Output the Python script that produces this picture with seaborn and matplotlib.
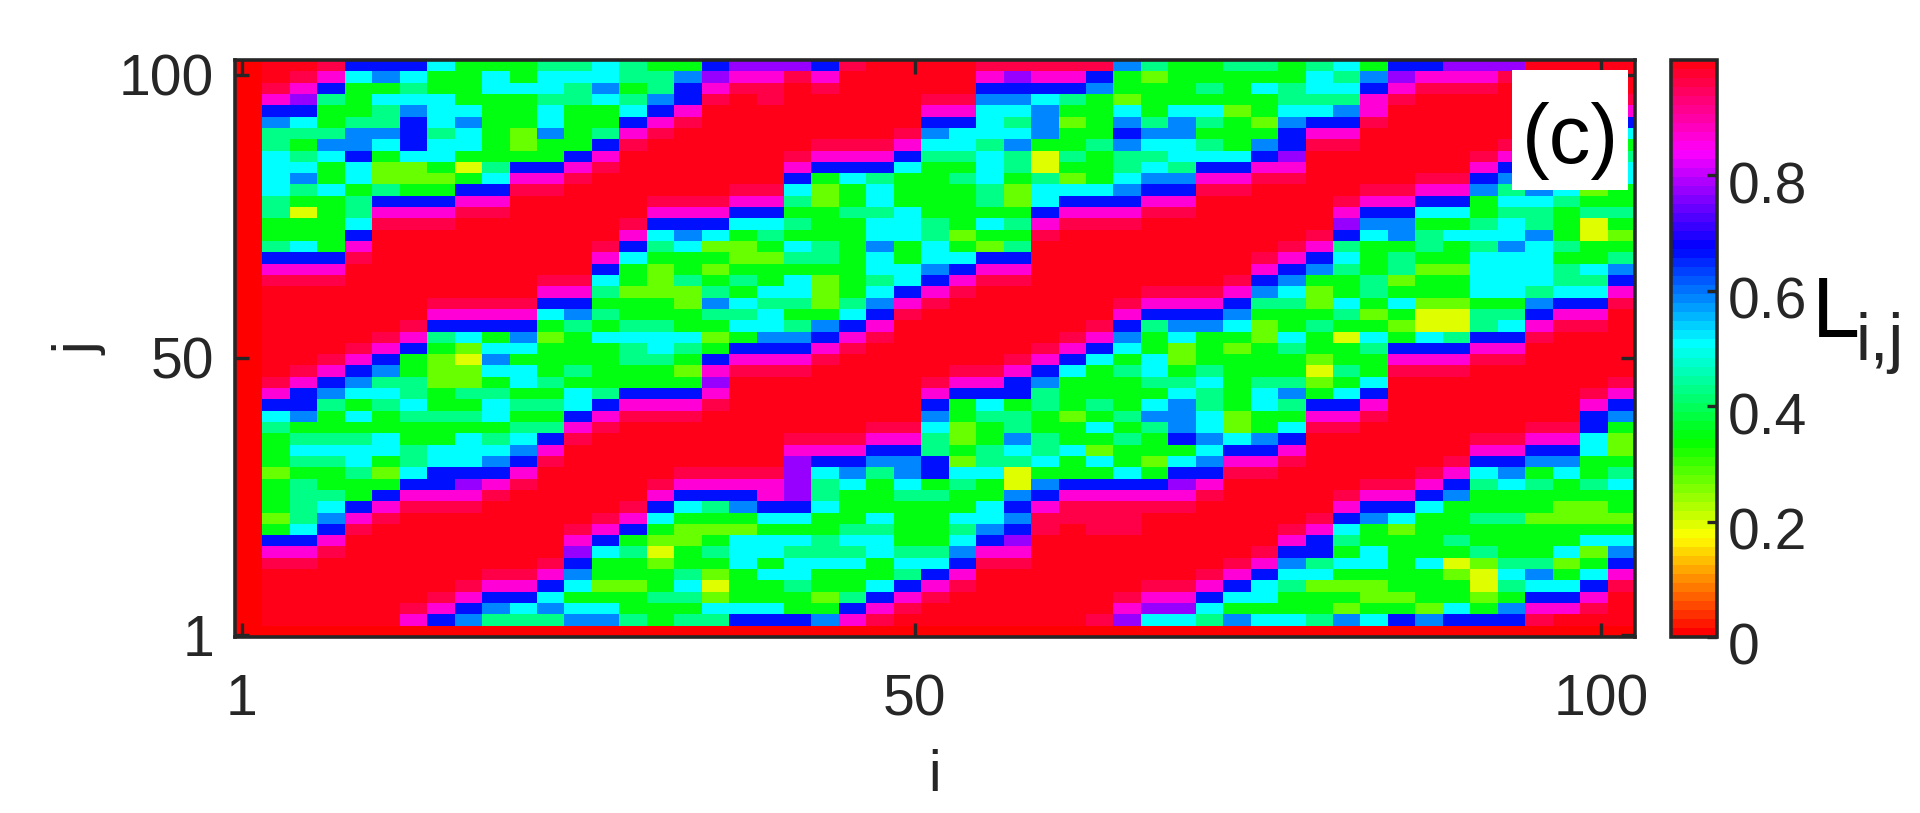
import matplotlib
matplotlib.use("Agg")
import matplotlib.pyplot as plt
import numpy as np
import seaborn as sns
from matplotlib.patches import Rectangle
from matplotlib.transforms import ScaledTranslation

# level codes
levels = {"z": 0.0, "r": 0.985, "p": 0.955, "m": 0.86, "v": 0.77, "b": 0.66, "a": 0.58,
          "c": 0.5, "t": 0.43, "g": 0.35, "l": 0.27, "y": 0.19}

# one string per grid column (2 sites wide), top row first, rows are 2 sites high
columns = [
    "zzzzzzzzzz zzzzzzzzzz zzzzzzzzzz zzzzzzzzzz zzzzzzzzzz",
    "rrpmbattcc ccttggtbmp rrrrrrrrpm bctggglggg lgbmprrrrr",
    "rpmvbctgtc atgyggcbmp rrrrrrrpmb bagtctgttt tcbmprrrrr",
    "pmbtggtacg gcgggggbmp rrrrrrpmba tggtctggtc abmprrrrrr",
    "bcgggtaabc cgttcbmprr rrrrrpmbac gcgtcctggb mprrrrrrrr",
    "bagcttacgl ltbmprrrrr rrrrpmbatc tggccglgbm prrrrrrrrr",
    "bctcabbbcl lgbmprrrrr rrrpmbggtt ctggttcbmp rrrrrrrrpm",
    "cggccctccg lgbmprrrrr rpmbtglllg gtggccbbmp rrrrrrrpmb",
    "ggggcaccgy gbmprrrrrr rpmbclyllt gtgcccbvmp rrrrrrpmba",
    "gccggggggt cbmprrrrrr rpmbgcacgt ccgtcabmpr rrrrrpmbat",
    "ggcgggllgb mprrrrrrrr rpmbacgccg tgtcabmprr rrrrrpmbct",
    "tcctccaggb mprrrrrrrp mbcglgggtg tgtbmprrrr rrrrpmbcat",
    "tcttggggbm prrrrrrrrp mbatgggtgc cbmprrrrrr rpmvbacgca",
    "ccacggtbmp rrrrrrpmbc tgtgcggggt bmprrrrrrr pmbcgglgca",
    "ttgtcbmprr rrrrpmbcgg lggtcttggb mprrrrrrrp mbgtgglggt",
    "gttabmprrr rrpmbctgll lggtcctggb mprrrrrpmb cglylggtgg",
    "gabbmprrrr rrpmbacggt llggctglgb mprrrrpmbc gllggtctgt",
    "bvmprrrrrr rrpmbclglg tatglgbmvm prrrrrpmbt glgtglylct",
    "vmprrrrrrr rpmbcgllgt gctcgbmprr rrrrrrpmba glcccgggcb",
    "vmpprrrrrr rpmbctglgg ctccabmprr rrrrrrpmmb cgccgcggcb",
    "vprrrrrrpm bctgtgctgc ctgtabmprr rrrpmvvvvb cgctcctggb",
    "bmprrrrpmb gllgggttgl llgabmprrr rrrpmbcttc ggttcgglga",
    "prrrrrrpmb cggtgggggg gtcbmprrrr rrrpmbacgg gtctcggtbm",
    "rrrrrrrpmb tcctccacct cabmprrrrr rrpmbatggg ctccggcbmp",
    "rrrrrrpmbc gggcccggcc bmprrrrrrr rrpmbaactg gggtctbmpr",
    "rrrpmbactg ggggttccab mprrrrrrpm bacttbbgtg gggtcbmprr",
    "rrrpmbcctg tgggglgcbm prrrrrrpmb ggllglctgg ctcabmprrr",
    "pmbaccctcc cttgcglbmp rrrrrrrpmb ctggttcggc cabmprrrrr",
    "pvbactcatt gllgtgtbmp rrrrrrpmbb gttactyyab abvmprrrrr",
    "pmbcaaagyy tccbmprrrr rrrrrpmbat tggttcgabm pprrrrrrrr",
    "pmbtglggtg lcbmprrrrr rrrrpmbcgg glggcggbmp prrrrrrrrr",
    "pbaggggtgg gcbmprrrrr rrrpmbcggg tgcglcgbmp pprrrrrrrp",
    "agglcabatt cabmprrrrr rpmbacgtgg gtgtggcbmp pprrrrrpmv",
    "tlgggtactc abmprrrrrr pmbtggcctg catgglgbmp rrrrrrpmvc",
    "ggggcaacct abmprrrrrr pmbacllgtc aaabgcbvmp rrrrrrpmvc",
    "ggtgctgtcb mprrrrrrrr pmbagggtct tccacabmpr rrrrrpmbct",
    "tggglgggcb mprrrrrrrp mbacglgggg gllcbmprrr rrrrpmbcga",
    "tgcgglgabm prrrrrrpmb atgllgggtc cggabmprrr rrrpmbccgc",
    "ggttcabbvm prrrrrpmba ctggctggta tgcbmprrrr rpmbactggc",
    "tcctcbmprr rrrrrpmbag llgtgglylg bmprrrrrrr pmbbtclggt",
    "ctctabmprr rrpmvbtctg gctgyggtgc bmprrrrrpm bctgcglgla",
    "gabmmprrrr rpmbacgggt tglgctggcb mprrrrrpmb aggccgllgc",
    "bvmprrrrrr rpmbaagttl gcglgbmprr rrrrrrrpmb clggggglgb",
    "bmprrrrrrr pmbcgttglg glyycbmprr rrrrrrpmbc ggggcgggla",
    "vmprrrrrrr pmbcgcgglg glyytbmprr rrrrrpmbag ggtgylggcb",
    "vmprrrrrpm baggtctccc cgttbmprrr rrrpmbctgg tggtlyylgb",
    "vprrrrrpmb atctccaccc cgtcbmprrr rrrpmbacgg tgggtctgab",
    "rrrrrrpmba aacttacccc tabmprrrrr rrpmbagtgg lgggtacbmp",
    "rrrrrpmbca cctgggtgtt cbmprrrrrr rrpmbacggl lggclgcbmr",
    "rrrrpmbcag tlgtyyggct cbmprrrrrp mbbccggtgl lgclgcbmpr",
    "rrrpmbcgtc cggtglgtab mprrrrrrpm bagllgtcgg lgcabmprrr",
]

i_ticks = [1, 50, 100]
j_ticks = [1, 50, 100]
cbar_ticks = [0, 0.2, 0.4, 0.6, 0.8]
cbar_labels = ["0", "0.2", "0.4", "0.6", "0.8"]

DARK = "#262626"
W, H = 1920, 813


def box(left, top, right, bottom):
    return [left / W, 1 - bottom / H, (right - left) / W, (bottom - top) / H]


def build_matrix():
    rows = []
    for col in columns:
        col = col.replace(" ", "")
        if len(col) != 50:
            print("bad column length", len(col), col)
        rows.append([levels[c] for c in col.ljust(50, "r")[:50]] + [0.0])
    return np.array(rows).T


def main():
    sns.set_theme(style="white")
    plt.rcParams["font.family"] = ["Liberation Sans", "DejaVu Sans"]
    plt.rcParams["axes.linewidth"] = 2.6
    plt.rcParams["axes.edgecolor"] = DARK

    fig = plt.figure(figsize=(W / 100, H / 100), dpi=100)
    ax = fig.add_axes(box(235, 60, 1635, 637))
    cax = fig.add_axes(box(1671, 60, 1717, 637))

    data = build_matrix()
    cmap = plt.get_cmap("hsv", 64)
    sns.heatmap(data, cmap=cmap, vmin=0, vmax=1, ax=ax, cbar_ax=cax,
                cbar_kws={"ticks": cbar_ticks}, xticklabels=False, yticklabels=False)

    for side in ax.spines.values():
        side.set_visible(True)
        side.set_linewidth(2.6)
        side.set_edgecolor(DARK)
    ax.set_axisbelow(False)
    cax.set_axisbelow(False)

    ax.set_xticks([(v - 0.49) / 2 for v in i_ticks])
    ax.set_xticklabels([str(v) for v in i_ticks])
    ax.set_yticks([51 - (v - 0.64) / 2 for v in j_ticks])
    ax.set_yticklabels([str(v) for v in j_ticks], rotation=0)
    ax.tick_params(axis="both", which="major", direction="in", length=10, width=2.4,
                   color=DARK, labelcolor=DARK, labelsize=41, top=True, right=True,
                   bottom=True, left=True)
    ax.tick_params(axis="x", pad=26)
    ax.tick_params(axis="y", pad=15)
    ax.set_xlabel("i", fontsize=41, color=DARK, labelpad=16)
    ax.set_ylabel("j", fontsize=41, color=DARK, labelpad=8)

    cbar = ax.collections[0].colorbar
    cbar.outline.set_visible(True)
    cbar.outline.set_linewidth(2.6)
    cbar.outline.set_edgecolor(DARK)
    cbar.set_ticklabels(cbar_labels)
    cax.tick_params(direction="in", length=7, width=2.4, color=DARK, labelcolor=DARK,
                    labelsize=41, pad=8, right=True)
    shift = ScaledTranslation(0, -5 / 72, fig.dpi_scale_trans)
    for label in cax.get_yticklabels():
        label.set_transform(label.get_transform() + shift)

    # white panel tag box over the heatmap
    ax.add_patch(Rectangle((1512 / W, 1 - 190 / H), 116 / W, 120 / H, transform=fig.transFigure,
                           facecolor="white", edgecolor="none", zorder=5, clip_on=False))
    fig.text(1570 / W, 1 - 141 / H, "(c)", fontsize=60, color="black", ha="center", va="center", zorder=6)

    fig.text(1812 / W, 1 - 337 / H, "L", fontsize=62, color="black", ha="left", va="baseline")
    fig.text(1855 / W, 1 - 360 / H, "i,j", fontsize=48, color=DARK, ha="left", va="baseline")

    fig.savefig("out.png", dpi=100)
    plt.close(fig)


if __name__ == "__main__":
    main()
